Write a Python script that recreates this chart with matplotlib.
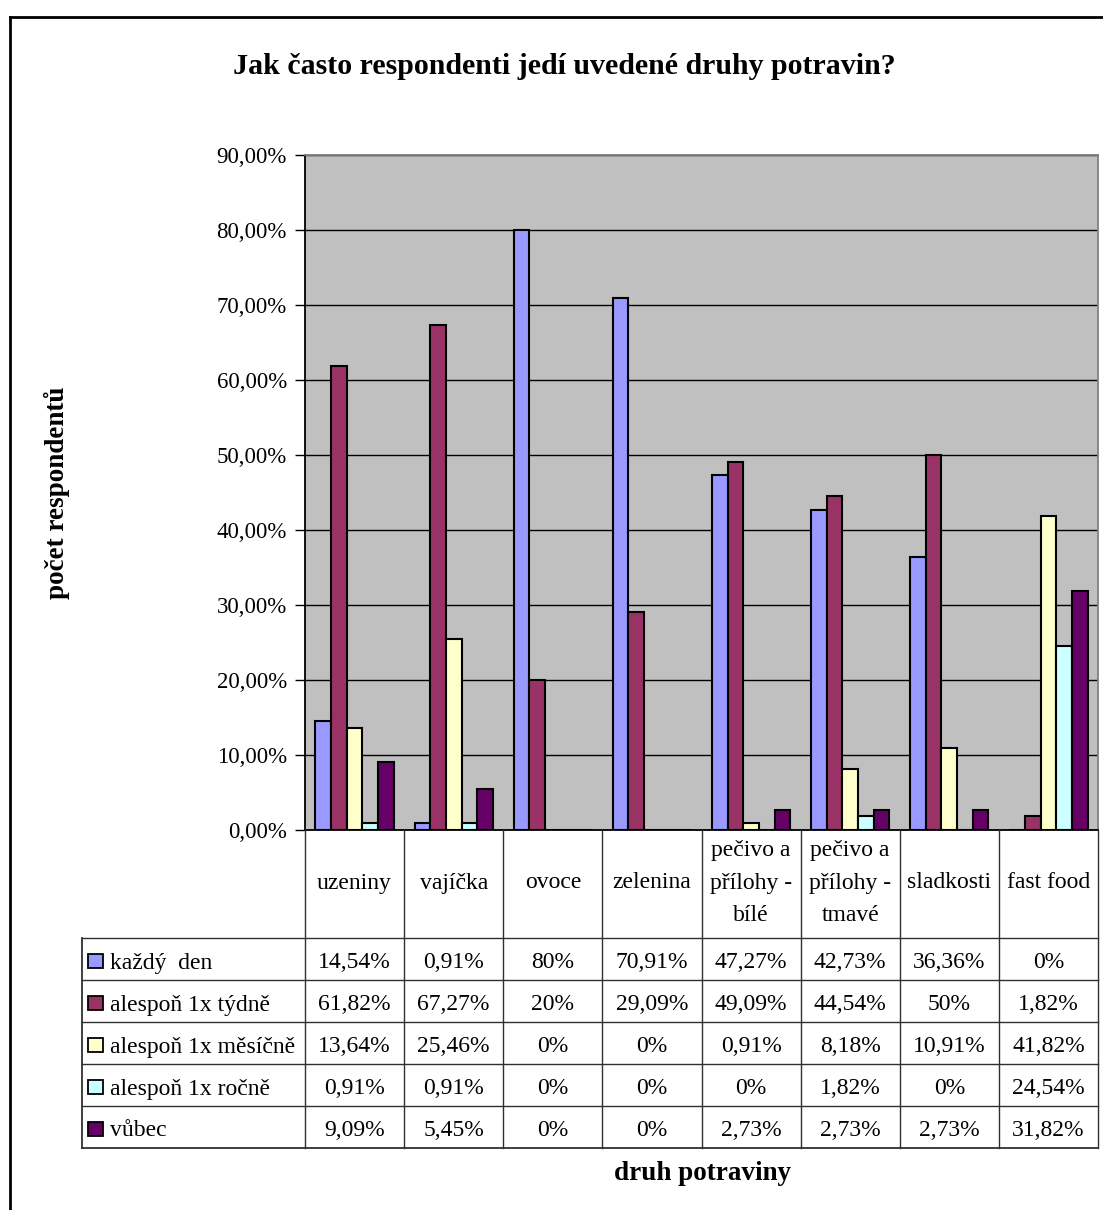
import matplotlib
matplotlib.use("Agg")
import matplotlib.pyplot as plt
from matplotlib.patches import Rectangle
import numpy as np

# ---------------- data ----------------
categories = ["uzeniny", "vajíčka", "ovoce", "zelenina",
              "pečivo a\npřílohy -\nbílé", "pečivo a\npřílohy -\ntmavé",
              "sladkosti", "fast food"]
series_names = ["každý  den", "alespoň 1x týdně", "alespoň 1x měsíčně",
                "alespoň 1x ročně", "vůbec"]
kazdy_den = [14.54, 0.91, 80, 70.91, 47.27, 42.73, 36.36, 0]
tydne = [61.82, 67.27, 20, 29.09, 49.09, 44.54, 50, 1.82]
mesicne = [13.64, 25.46, 0, 0, 0.91, 8.18, 10.91, 41.82]
rocne = [0.91, 0.91, 0, 0, 0, 1.82, 0, 24.54]
vubec = [9.09, 5.45, 0, 0, 2.73, 2.73, 2.73, 31.82]
series_values = [kazdy_den, tydne, mesicne, rocne, vubec]
colors = ["#9999FF", "#993366", "#FFFFCC", "#CCFFFF", "#660066"]
y_ticks = [0, 10, 20, 30, 40, 50, 60, 70, 80, 90]

title = "Jak často respondenti jedí uvedené druhy potravin?"
ylabel = "počet respondentů"
xlabel = "druh potraviny"

# ---------------- layout (pixels) ----------------
W, H = 1103, 1210
PL, PR, PT, PB = 305, 1098, 155, 830
TBL_L = 82
HDR_B = 938
ROW_H = 42
FS = 17
FONT = ["Liberation Serif", "DejaVu Serif"]

plt.rcParams["font.family"] = FONT

fig = plt.figure(figsize=(W / 100, H / 100), dpi=100)
fig.patch.set_facecolor("white")

ax = fig.add_axes([PL / W, 1 - PB / H, (PR - PL) / W, (PB - PT) / H])
ax.set_facecolor("#C0C0C0")

n = len(categories)
m = len(series_values)
x = np.arange(n)
bw = 0.79 / m
for j, (vals, c) in enumerate(zip(series_values, colors)):
    ax.bar(x + (j - (m - 1) / 2) * bw, vals, width=bw, color=c,
           edgecolor="black", linewidth=1.5, zorder=3)

ax.set_xlim(-0.5, n - 0.5)
ax.set_ylim(0, 90)
ax.set_yticks(y_ticks)
ax.set_yticklabels([("%.2f%%" % v).replace(".", ",") for v in y_ticks],
                   fontsize=16.5)
ax.set_xticks([])
ax.tick_params(axis="y", direction="out", length=7, width=1, color="black", pad=6)
ax.yaxis.grid(True, color="black", linewidth=1)
ax.set_axisbelow(True)
ax.spines["left"].set_color("black")
ax.spines["bottom"].set_color("black")
ax.spines["top"].set_color("#808080")
ax.spines["right"].set_color("#808080")
for s in ax.spines.values():
    s.set_linewidth(1.3)

# ---------------- overlay (table, titles, border) ----------------
ov = fig.add_axes([0, 0, 1, 1], zorder=5)
ov.set_xlim(0, W)
ov.set_ylim(H, 0)
ov.axis("off")
ov.patch.set_alpha(0)

# outer frame
ov.plot([10, 10], [17, H], color="black", lw=2)
ov.plot([10, W], [17, 17], color="black", lw=2)

ov.text((225 + 903) / 2, 67, title, ha="center", va="center",
        fontsize=21.5, fontweight="bold")
ov.text(57, 493, ylabel, ha="center", va="center", rotation=90,
        fontsize=19.5, fontweight="bold")
ov.text(702, 1173, xlabel, ha="center", va="center",
        fontsize=19.5, fontweight="bold")

colw = (PR - PL) / n
lc = "#303030"
tbl_bottom = HDR_B + ROW_H * m
# vertical lines
for i in range(n + 1):
    xx = PL + i * colw
    ov.plot([xx, xx], [PB, tbl_bottom], color=lc, lw=1)
ov.plot([TBL_L, TBL_L], [HDR_B, tbl_bottom], color=lc, lw=1.3)
# horizontal lines
for r in range(m + 1):
    yy = HDR_B + r * ROW_H
    ov.plot([TBL_L, PR], [yy, yy], color=lc, lw=1.3 if r == m else 1)

# header labels
for i, cat in enumerate(categories):
    ov.text(PL + (i + 0.5) * colw, (PB + HDR_B) / 2 - 1, cat, ha="center",
            va="center", fontsize=FS, linespacing=1.7)


def fmt(v):
    if abs(v - round(v)) < 1e-9:
        return "%d%%" % round(v)
    return ("%.2f%%" % v).replace(".", ",")


for j, (name, vals, c) in enumerate(zip(series_names, series_values, colors)):
    yc = HDR_B + (j + 0.5) * ROW_H + 1
    ov.add_patch(Rectangle((88, yc - 6), 15, 14, facecolor=c,
                           edgecolor="black", lw=1.3))
    ov.text(110, yc + 3, name, ha="left", va="center", fontsize=FS)
    for i, v in enumerate(vals):
        ov.text(PL + (i + 0.5) * colw, yc + 2, fmt(v), ha="center",
                va="center", fontsize=FS)

fig.savefig("out.png", dpi=100, facecolor="white")
